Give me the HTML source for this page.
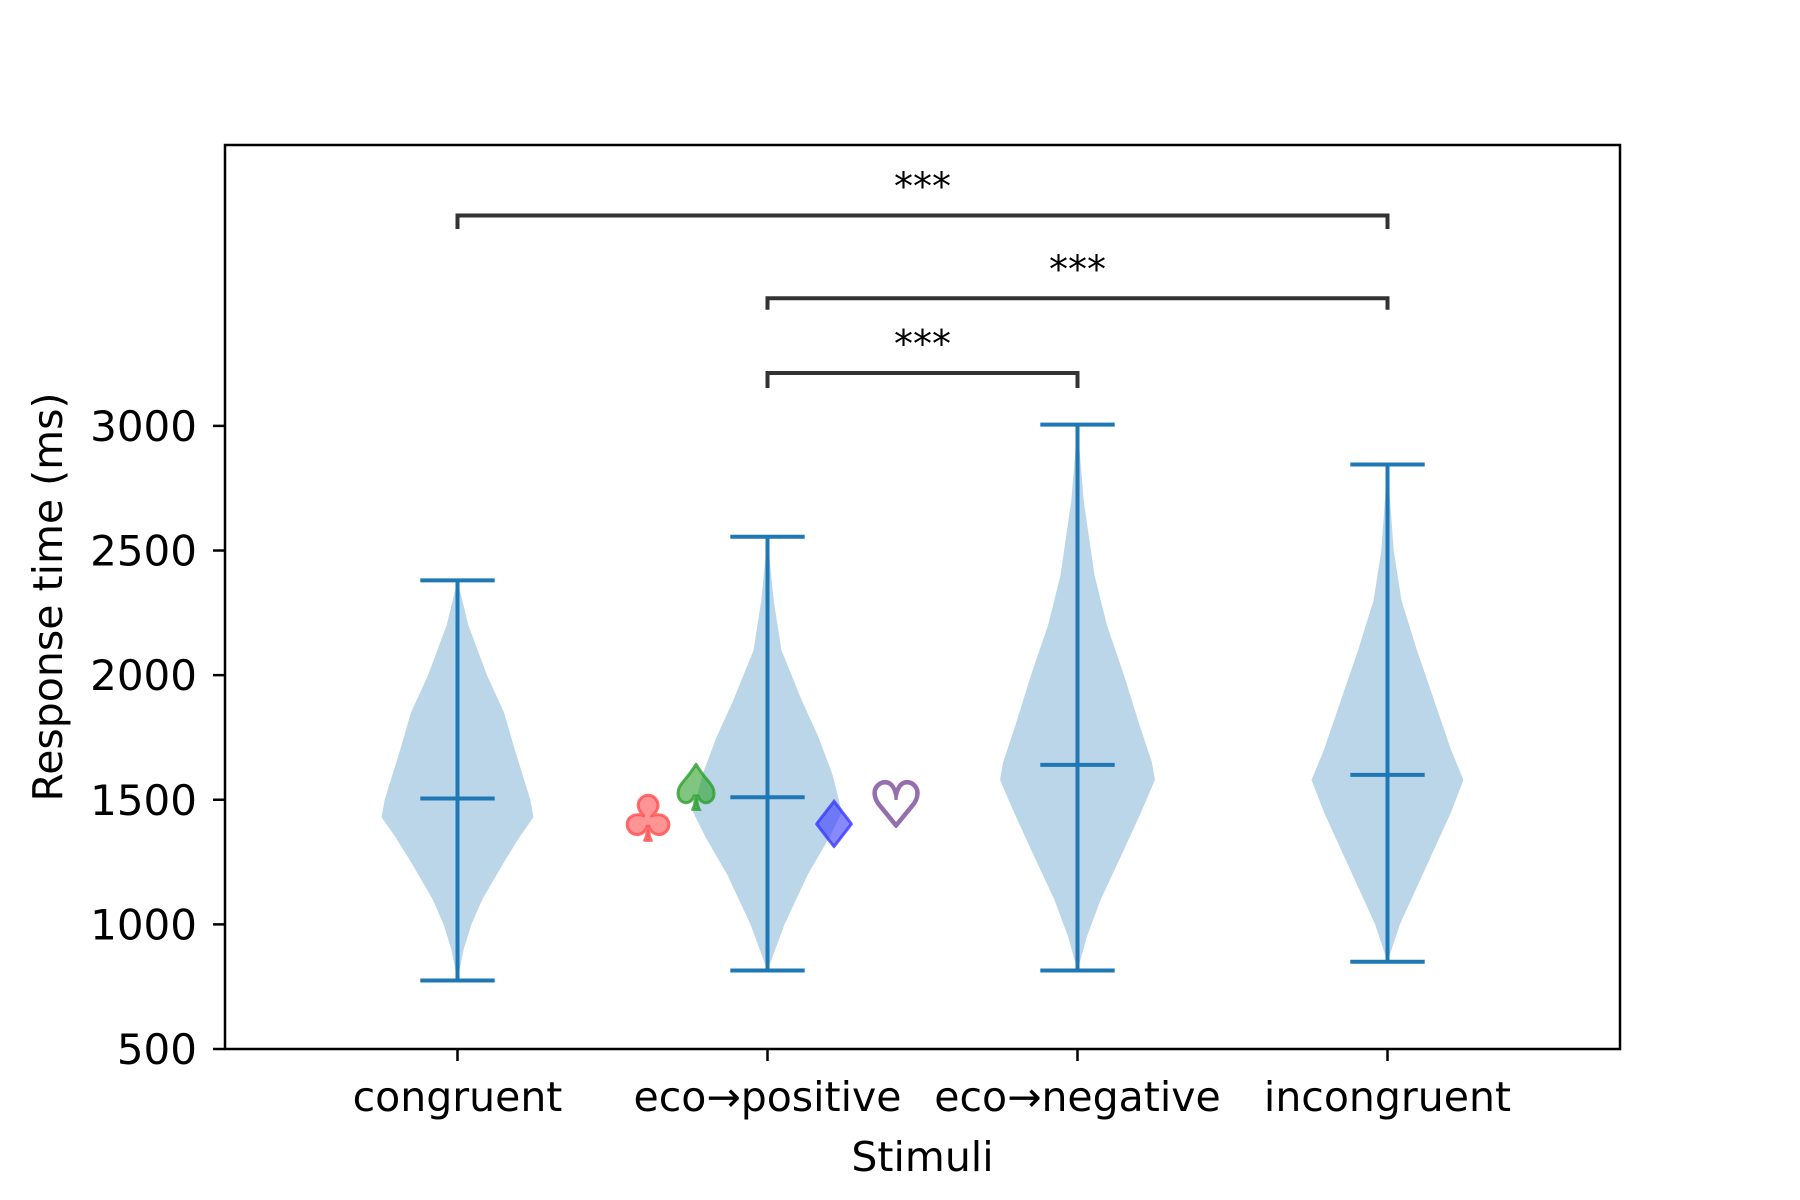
<!DOCTYPE html>
<html><head><meta charset="utf-8"><style>
html,body{margin:0;padding:0;background:#fff}
svg{display:block}
text{font-family:"DejaVu Sans","Liberation Sans",sans-serif}
</style></head><body>
<svg id="chart" width="1800" height="1200" viewBox="0 0 1800 1200" xmlns="http://www.w3.org/2000/svg">
<rect width="1800" height="1200" fill="#fff"/>
<g id="plot"></g>
</svg>
<script>
const categories = ["congruent","eco→positive","eco→negative","incongruent"];
const mins = [775, 815, 815, 850];
const maxs = [2380, 2555, 3005, 2845];
const medians = [1505, 1510, 1640, 1600];
const levels0 = [775, 900, 1000, 1100, 1250, 1350, 1430, 1500, 1700, 1850, 2000, 2200, 2380];
const widths0 = [0, 0.02, 0.045, 0.08, 0.15, 0.2, 0.245, 0.235, 0.185, 0.15, 0.095, 0.035, 0];
const levels1 = [815, 1000, 1200, 1350, 1450, 1600, 1750, 1900, 2100, 2300, 2555];
const widths1 = [0, 0.055, 0.13, 0.2, 0.24, 0.21, 0.165, 0.11, 0.045, 0.02, 0];
const levels2 = [815, 950, 1100, 1300, 1450, 1580, 1650, 1800, 2000, 2200, 2400, 2700, 3005];
const widths2 = [0, 0.03, 0.075, 0.15, 0.205, 0.25, 0.24, 0.2, 0.15, 0.095, 0.055, 0.02, 0];
const levels3 = [850, 1000, 1150, 1300, 1450, 1580, 1700, 1900, 2100, 2300, 2500, 2845];
const widths3 = [0, 0.04, 0.095, 0.15, 0.205, 0.245, 0.205, 0.15, 0.095, 0.045, 0.02, 0];
const violinLevels = [levels0, levels1, levels2, levels3];
const violinWidths = [widths0, widths1, widths2, widths3];
const yTicks = [500, 1000, 1500, 2000, 2500, 3000];
const bracketFrom = [1, 2, 2];
const bracketTo = [4, 4, 3];
const bracketTop = [3844, 3512, 3212];
const bracketEnd = [3790, 3466, 3152];
const bracketLabels = ["***", "***", "***"];

const L=225, R=1620, T=145, B=1049;
const xMin=0.25, xMax=4.75, yMin=500, yMax=4127;
const X = v => L + (v - xMin) / (xMax - xMin) * (R - L);
const Y = v => B - (v - yMin) / (yMax - yMin) * (B - T);
const NS="http://www.w3.org/2000/svg";
const g=document.getElementById('plot');
function mk(tag, attrs, parent){const e=document.createElementNS(NS,tag);for(const k in attrs)e.setAttribute(k,attrs[k]);(parent||g).appendChild(e);return e;}

categories.forEach((c,i)=>{
  const cx=i+1, lv=violinLevels[i], wd=violinWidths[i];
  let pts=[];
  for(let k=0;k<lv.length;k++) pts.push(X(cx+wd[k])+','+Y(lv[k]));
  for(let k=lv.length-1;k>=0;k--) pts.push(X(cx-wd[k])+','+Y(lv[k]));
  const p=mk('polygon',{points:pts.join(' '),fill:'#1f77b4','fill-opacity':0.3,stroke:'none'});
  
  
  const cap=0.12;
  const lines=[[cx,mins[i],cx,maxs[i]],[cx-cap,mins[i],cx+cap,mins[i]],[cx-cap,maxs[i],cx+cap,maxs[i]],[cx-cap,medians[i],cx+cap,medians[i]]];
  const names=['whisker-line','min-cap','max-cap','median-line'];
  lines.forEach((l,j)=>{
    const e=mk('line',{x1:X(l[0]),y1:Y(l[1]),x2:X(l[2]),y2:Y(l[3]),stroke:'#1f77b4','stroke-width':4});
    
    
  });
});

bracketFrom.forEach((f,i)=>{
  const t=bracketTo[i];
  const p=mk('polyline',{points:`${X(f)},${Y(bracketEnd[i])} ${X(f)},${Y(bracketTop[i])} ${X(t)},${Y(bracketTop[i])} ${X(t)},${Y(bracketEnd[i])}`,fill:'none',stroke:'#333','stroke-width':4});
  
  
  const tx=mk('text',{x:(X(f)+X(t))/2,y:Y(bracketTop[i])-16,'text-anchor':'middle','font-size':38,fill:'#000'});
  tx.textContent=bracketLabels[i];
  
  
});

const suits=[['♣',648,818,'#ff4d4d','club-marker'],['♠',696,787,'#2ca02c','spade-marker'],['♦',834,824,'#3a3aff','diamond-marker'],['♡',896,804,'#7a4a9a','heart-marker']];
suits.forEach(s=>{
  const fs=62;
  const e=mk('text',{x:s[1],y:s[2]+0.36*fs,'text-anchor':'middle','font-size':fs,fill:s[0]==='♡'?'none':s[3],'fill-opacity':0.6,stroke:s[3],'stroke-width':3,'stroke-opacity':0.8});
  e.textContent=s[0];
  
  
});

const fr=mk('rect',{x:L,y:T,width:R-L,height:B-T,fill:'none',stroke:'#000','stroke-width':2.5});



yTicks.forEach(v=>{
  const e=mk('line',{x1:L-12,y1:Y(v),x2:L,y2:Y(v),stroke:'#000','stroke-width':2.5});
  
  
  const t=mk('text',{x:L-28,y:Y(v)+15,'text-anchor':'end','font-size':42,fill:'#000'});
  t.textContent=v;
  
  
});
categories.forEach((c,i)=>{
  const e=mk('line',{x1:X(i+1),y1:B,x2:X(i+1),y2:B+12,stroke:'#000','stroke-width':2.5});
  
  
  const t=mk('text',{x:X(i+1),y:B+62,'text-anchor':'middle','font-size':41,fill:'#000'});
  t.textContent=c;
  
  
});
const xt=mk('text',{x:(L+R)/2,y:B+122,'text-anchor':'middle','font-size':41,fill:'#000'});
xt.textContent='Stimuli';


const yt=mk('text',{x:0,y:0,'text-anchor':'middle','font-size':41,fill:'#000',transform:`translate(62,${(T+B)/2}) rotate(-90)`});
yt.textContent='Response time (ms)';


</script>
</body></html>
